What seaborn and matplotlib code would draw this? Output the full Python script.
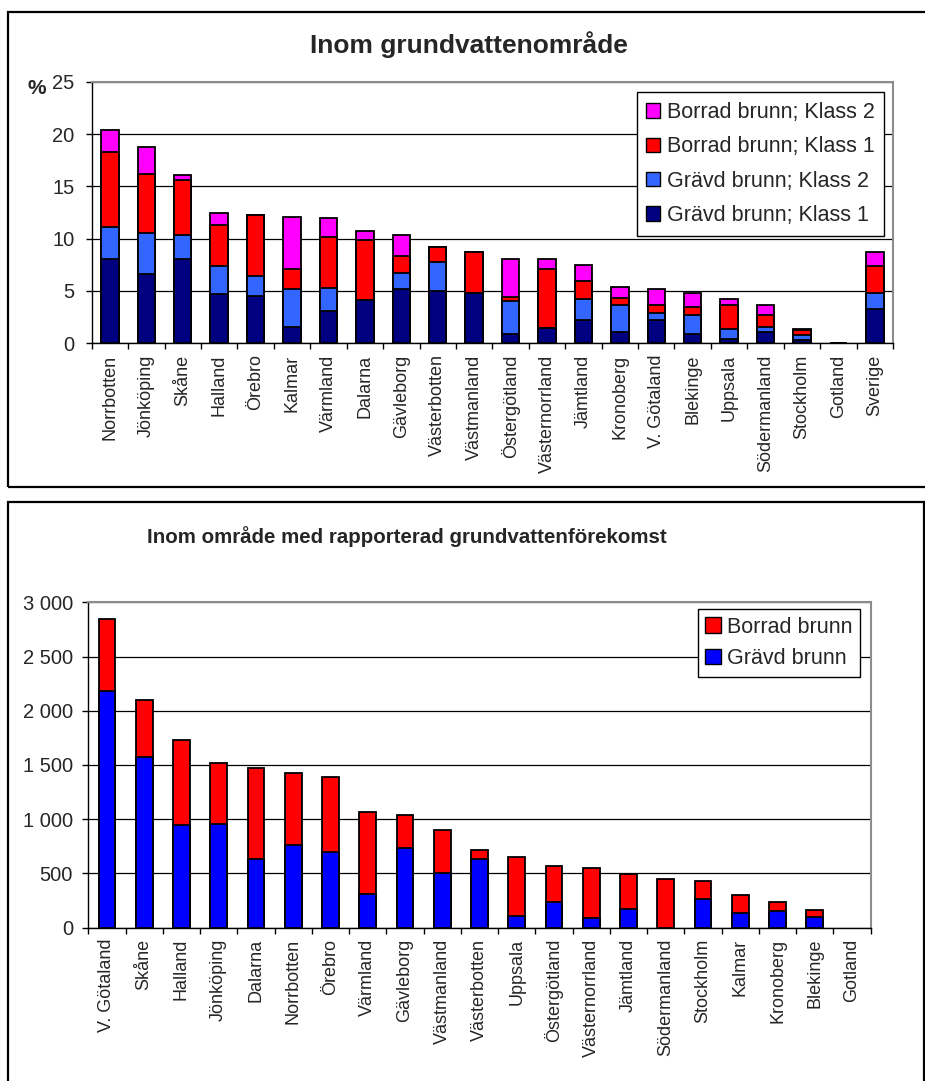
import numpy as np
import pandas as pd
import matplotlib
matplotlib.use("Agg")
import matplotlib.pyplot as plt
from matplotlib.patches import Patch, Rectangle
from matplotlib.ticker import FuncFormatter, FixedLocator
import seaborn as sns

# ---------------- data: share within groundwater areas (%) ----------------
regions_top = ["Norrbotten", "Jönköping", "Skåne", "Halland", "Örebro", "Kalmar",
               "Värmland", "Dalarna", "Gävleborg", "Västerbotten", "Västmanland",
               "Östergötland", "Västernorrland", "Jämtland", "Kronoberg",
               "V. Götaland", "Blekinge", "Uppsala", "Södermanland", "Stockholm",
               "Gotland", "Sverige"]
gravd_k1 = [8.1, 6.6, 8.1, 4.7, 4.55, 1.6, 3.1, 4.15, 5.2, 5.0, 4.85,
            0.9, 1.45, 2.25, 1.1, 2.25, 0.9, 0.45, 1.1, 0.3, 0.05, 3.25]
gravd_k2 = [3.05, 3.9, 2.25, 2.7, 1.9, 3.55, 2.2, 0.0, 1.55, 2.75, 0.0,
            3.1, 0.0, 1.95, 2.55, 0.65, 1.8, 0.95, 0.5, 0.45, 0.0, 1.6]
borrad_k1 = [7.15, 5.7, 5.25, 3.9, 5.85, 1.95, 4.85, 5.75, 1.55, 1.45, 3.9,
             0.4, 5.65, 1.8, 0.7, 0.8, 0.8, 2.25, 1.1, 0.5, 0.0, 2.55]
borrad_k2 = [2.1, 2.6, 0.5, 1.2, 0.0, 5.0, 1.85, 0.8, 2.05, 0.0, 0.0,
             3.7, 1.0, 1.5, 1.0, 1.45, 1.35, 0.55, 1.0, 0.1, 0.0, 1.35]
top_yticks = [0, 5, 10, 15, 20, 25]

# ---------------- data: counts within reported groundwater occurrence ----------------
regions_bot = ["V. Götaland", "Skåne", "Halland", "Jönköping", "Dalarna", "Norrbotten",
               "Örebro", "Värmland", "Gävleborg", "Västmanland", "Västerbotten",
               "Uppsala", "Östergötland", "Västernorrland", "Jämtland",
               "Södermanland", "Stockholm", "Kalmar", "Kronoberg", "Blekinge", "Gotland"]
gravd = [2185, 1570, 945, 955, 635, 765, 695, 315, 735, 500, 635,
         105, 235, 85, 175, 0, 260, 140, 150, 95, 0]
borrad = [665, 525, 790, 560, 835, 665, 695, 750, 305, 400, 85,
          550, 335, 470, 320, 445, 170, 165, 85, 70, 0]
bot_yticks = [0, 500, 1000, 1500, 2000, 2500, 3000]

NAVY = "#000080"
LBLUE = "#3366FF"
RED = "#FF0000"
MAGENTA = "#FF00FF"
BLUE = "#0000FF"

sns.set_style("white")
plt.rcParams["font.family"] = ["Liberation Sans", "DejaVu Sans"]

W, H = 925, 1081
fig = plt.figure(figsize=(W / 100, H / 100), dpi=100)


def fx(px):
    return px / W


def fy(py):
    return 1 - py / H


# panel frames
fig.patches.append(Rectangle((fx(7.5), fy(486.5)), 1.05 - fx(7.5), fy(12) - fy(486.5),
                             transform=fig.transFigure, fill=False, edgecolor="black",
                             linewidth=1.6, zorder=0))
fig.patches.append(Rectangle((fx(7.5), -0.05), fx(924) - fx(7.5), fy(502) + 0.05,
                             transform=fig.transFigure, fill=False, edgecolor="black",
                             linewidth=1.6, zorder=0))


def stacked(ax, cats, layers, colors, width):
    """Draw stacked bars by overlaying cumulative totals, tallest first."""
    cum = np.cumsum(np.array(layers, dtype=float), axis=0)
    for level in range(len(layers) - 1, -1, -1):
        vals = np.where(cum[level] > 0, cum[level], np.nan)
        df = pd.DataFrame({"cat": cats, "val": vals})
        sns.barplot(data=df, x="cat", y="val", color=colors[level], saturation=1,
                    width=width, edgecolor="black", linewidth=1.3, ax=ax, zorder=3)


def style_axes(ax, cats, yticks, ylabfmt=None, ytick_pad=8):
    n = len(cats)
    ax.set_xlim(-0.5, n - 0.5)
    ax.set_ylim(yticks[0], yticks[-1])
    ax.set_yticks(yticks)
    if ylabfmt is not None:
        ax.yaxis.set_major_formatter(FuncFormatter(ylabfmt))
    ax.set_xticks(range(n))
    ax.set_xticklabels(cats, rotation=90, fontsize=13)
    ax.xaxis.set_minor_locator(FixedLocator(np.arange(-0.5, n, 1.0)))
    ax.tick_params(axis="x", which="major", length=0, pad=8)
    ax.tick_params(axis="x", which="minor", length=4, width=1, color="black",
                   direction="out", bottom=True)
    ax.tick_params(axis="y", which="major", length=4.5, width=1, color="black",
                   direction="out", left=True, labelsize=14.5, pad=ytick_pad)
    ax.set_xlabel("")
    ax.set_ylabel("")
    ax.set_axisbelow(True)
    ax.yaxis.grid(True, color="black", linewidth=0.9)
    ax.xaxis.grid(False)
    for s in ("top", "right"):
        ax.spines[s].set_visible(True)
        ax.spines[s].set_color("#8c8c8c")
        ax.spines[s].set_linewidth(1.5)
    for s in ("left", "bottom"):
        ax.spines[s].set_color("black")
        ax.spines[s].set_linewidth(1.0)


# ---------------- top chart ----------------
ax1 = fig.add_axes([fx(91.7), fy(343.3), fx(893) - fx(91.7), fy(81.7) - fy(343.3)])
stacked(ax1, regions_top, [gravd_k1, gravd_k2, borrad_k1, borrad_k2],
        [NAVY, LBLUE, RED, MAGENTA], 0.48)
style_axes(ax1, regions_top, top_yticks, ytick_pad=8)
fig.text(fx(468.5), fy(45), "Inom grundvattenområde", ha="center", va="center",
         fontsize=19, fontweight="bold")
fig.text(fx(37), fy(89), "%", ha="center", va="center", fontsize=15, fontweight="bold")

h1 = [Patch(facecolor=c, edgecolor="black", linewidth=1) for c in (MAGENTA, RED, LBLUE, NAVY)]
l1 = ["Borrad brunn; Klass 2", "Borrad brunn; Klass 1",
      "Grävd brunn; Klass 2", "Grävd brunn; Klass 1"]
leg1 = ax1.legend(h1, l1, loc="upper right", bbox_to_anchor=(fx(884.3), fy(92.3)),
                  bbox_transform=fig.transFigure, borderaxespad=0, fontsize=15.5,
                  frameon=True, fancybox=False, edgecolor="black", framealpha=1,
                  handlelength=0.65, handleheight=0.65, handletextpad=0.3,
                  labelspacing=0.62, borderpad=0.45)
leg1.get_frame().set_linewidth(1.0)
leg1.set_zorder(10)

# ---------------- bottom chart ----------------
ax2 = fig.add_axes([fx(88.3), fy(927.7), fx(870.7) - fx(88.3), fy(602.3) - fy(927.7)])
stacked(ax2, regions_bot, [gravd, borrad], [BLUE, RED], 0.45)
style_axes(ax2, regions_bot, bot_yticks,
           ylabfmt=lambda v, p: f"{int(v):,}".replace(",", " "), ytick_pad=6.5)
fig.text(fx(406.5), fy(537), "Inom område med rapporterad grundvattenförekomst",
         ha="center", va="center", fontsize=14.8, fontweight="bold")

h2 = [Patch(facecolor=c, edgecolor="black", linewidth=1) for c in (RED, BLUE)]
leg2 = ax2.legend(h2, ["Borrad brunn", "Grävd brunn"], loc="upper right",
                  bbox_to_anchor=(fx(860), fy(609)), bbox_transform=fig.transFigure,
                  borderaxespad=0, fontsize=15.5, frameon=True, fancybox=False,
                  edgecolor="black", framealpha=1, handlelength=0.7, handleheight=0.7,
                  handletextpad=0.3, labelspacing=0.5, borderpad=0.35)
leg2.get_frame().set_linewidth(1.0)
leg2.set_zorder(10)

fig.savefig("out.png", dpi=100)
